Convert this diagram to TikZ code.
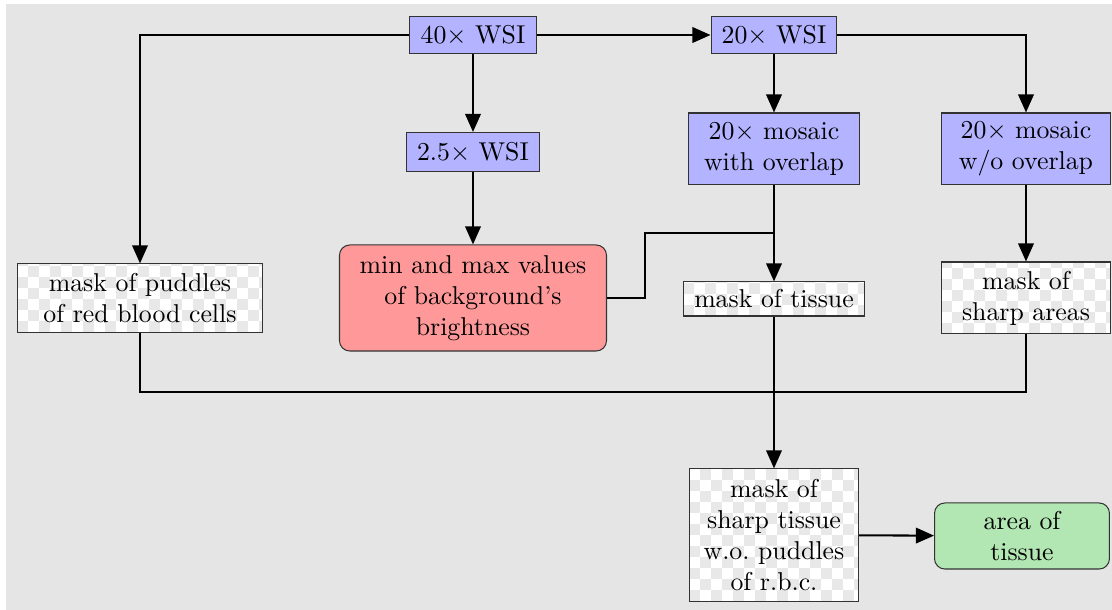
\documentclass[tikz,border=0pt]{standalone}
\usetikzlibrary{arrows.meta}
\definecolor{wsiblue}{RGB}{179,179,255}
\definecolor{brightred}{RGB}{255,153,153}
\definecolor{areagreen}{RGB}{178,230,178}
\begin{document}
\begin{tikzpicture}[x=0.3876pt,y=0.3876pt,
    wsi/.style={draw=black!80, fill=wsiblue, align=center, inner sep=3pt},
    mask/.style={draw=black!80, align=center, inner sep=3pt, path picture={
        % checkerboard behind the text
        \fill [white] (path picture bounding box.south west) rectangle (path picture bounding box.north east);
        \foreach \i in {0,...,25}{\foreach \j in {0,...,13}{
            \pgfmathtruncatemacro{\odd}{mod(\i+\j,2)}
            \ifnum\odd=0
              \fill [black!9] ([shift={(\i*4.25pt,\j*4.25pt)}]path picture bounding box.south west) rectangle ++(4.25pt,4.25pt);
            \fi
        }}}},
    result/.style={draw=black!80, rounded corners=4pt, align=center, inner sep=3pt},
    link/.style={thick, -{Triangle[length=7pt,width=6pt]}}]
    \useasboundingbox (0,0) rectangle (1112,-610);
    \fill [black!10] (6,-4) rectangle (1112,-610);
    \node [wsi, minimum width=49.2pt, minimum height=14.7pt] (wsi40) at (473,-35) {$40\times$ WSI};
    \node [wsi, minimum width=48.8pt, minimum height=14.7pt] (wsi20) at (774,-35) {$20\times$ WSI};
    \node [wsi, minimum width=51.6pt, minimum height=15.1pt] (wsi25) at (473,-152) {$2.5\times$ WSI};
    \node [wsi, minimum width=66.3pt, minimum height=27.9pt] (mos) at (774,-149) {$20\times$ mosaic\\with overlap};
    \node [wsi, minimum width=65.5pt, minimum height=27.9pt] (mosno) at (1026,-149) {$20\times$ mosaic\\w/o overlap};
    \node [mask, minimum width=95pt, minimum height=26.4pt] (rbc) at (140,-298) {mask of puddles\\of red blood cells};
    \node [result, fill=brightred, minimum width=103.5pt, minimum height=41.1pt] (bright) at (473,-298) {min and max values\\of background's\\brightness};
    \node [mask, minimum width=70.5pt, minimum height=13.2pt] (tissue) at (774,-299) {mask of tissue};
    \node [mask, minimum width=65.5pt, minimum height=27.9pt] (sharp) at (1026,-298) {mask of\\sharp areas};
    \node [mask, minimum width=65.5pt, minimum height=51.2pt] (final) at (774,-535) {mask of\\sharp tissue\\w.o.\ puddles\\of r.b.c.};
    \node [result, fill=areagreen, minimum width=67.8pt, minimum height=25.6pt] (area) at (1022,-536) {area of\\tissue};
    \coordinate (join) at (774,-233);
    \coordinate (merge) at (774,-392);
    \draw [link] (wsi40.west) -| (rbc.north);
    \draw [link] (wsi40.east) -- (wsi20.west);
    \draw [link] (wsi40) -- (wsi25);
    \draw [link] (wsi25) -- (bright);
    \draw [link] (wsi20) -- (mos);
    \draw [link] (wsi20.east) -| (mosno.north);
    \draw [link] (mos) -- (tissue);
    \draw [thick] (bright.east) -- ++(38,0) |- (join);
    \draw [link] (mosno) -- (sharp);
    \draw [thick] (rbc.south) |- (merge);
    \draw [thick] (sharp.south) |- (merge);
    \draw [link] (tissue) -- (final);
    \draw [link] (final) -- (area);
\end{tikzpicture}
\end{document}
